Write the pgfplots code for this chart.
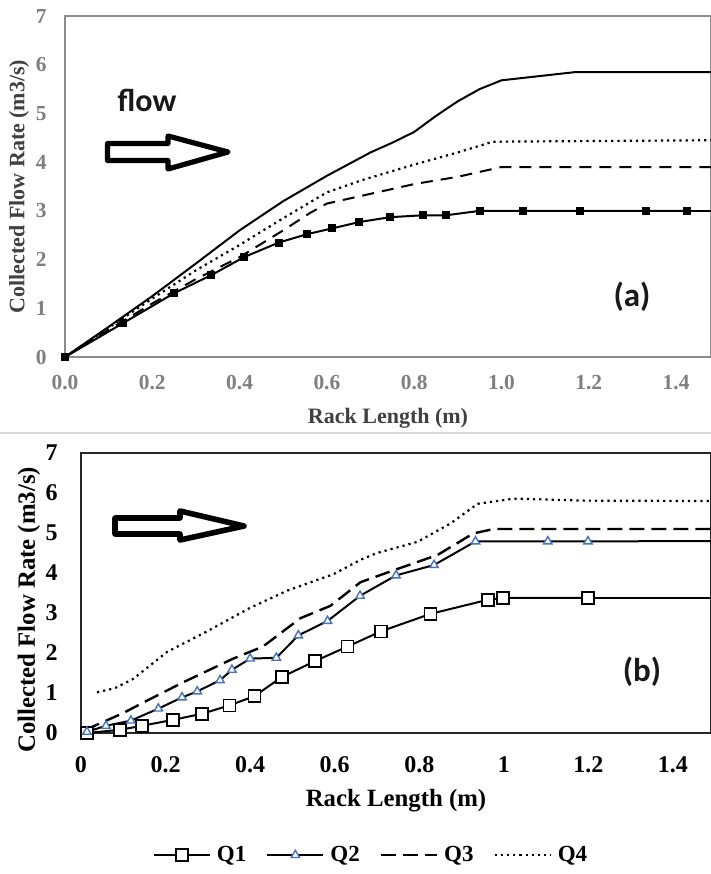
\documentclass[border=0pt]{standalone}
\usepackage{fontspec}
\setmainfont{Liberation Serif}
\newfontfamily\calib{Carlito}
\usepackage{pgfplots}
\pgfplotsset{compat=1.18}
\definecolor{tickgray}{HTML}{7F7F7F}
\definecolor{labgray}{HTML}{404040}
\definecolor{boxgray}{HTML}{8C8C8C}
\definecolor{sepgray}{HTML}{D9D9D9}
\definecolor{triblue}{HTML}{4472C4}

\begin{document}
\begin{tikzpicture}
\useasboundingbox (0pt,0pt) rectangle (355.5pt,-437pt);
\fill[white] (0pt,0pt) rectangle (355.5pt,-437pt);
\draw[sepgray, line width=1pt] (0pt,-216.5pt) -- (355.5pt,-216.5pt);

% ---- panel (a)
\begin{axis}[
  at={(32.5pt,-178.5pt)}, anchor=south west,
  scale only axis, width=323pt, height=170.5pt,
  xmin=0, xmax=1.48, ymin=0, ymax=7,
  xtick={0,0.2,0.4,0.6,0.8,1.0,1.2,1.4}, ytick={0,1,...,7},
  major tick length=0pt,
  axis line style={draw=boxgray, line width=1.2pt},
  xticklabel style={font=\fontsize{10.7}{12}\selectfont\bfseries, text=tickgray,
    anchor=center, inner sep=0pt, yshift=-13pt,
    /pgf/number format/.cd, fixed, fixed zerofill, precision=1, assume math mode=true},
  yticklabel style={font=\fontsize{10.7}{12}\selectfont\bfseries, text=tickgray,
    anchor=east, inner sep=0pt, xshift=-9pt,
    /pgf/number format/assume math mode=true},
  xlabel={Rack Length (m)},
  xlabel style={at={(axis description cs:0.5,-0.179)}, anchor=center,
    font=\fontsize{11}{13}\selectfont\bfseries, text=labgray},
  ylabel={Collected Flow Rate (m3/s)},
  ylabel style={at={(axis description cs:-0.071,0.5)}, anchor=center,
    font=\fontsize{11}{13}\selectfont\bfseries, text=labgray},
]
\addplot[black, line width=1pt, no marks] coordinates {
  (0,0) (0.1,0.62) (0.2,1.25) (0.3,1.92) (0.4,2.6) (0.5,3.2) (0.6,3.72)
  (0.7,4.2) (0.75,4.4) (0.8,4.62) (0.85,4.95) (0.9,5.25) (0.95,5.5)
  (1.0,5.68) (1.05,5.73) (1.1,5.78) (1.17,5.85) (1.48,5.85)};
\addplot[black, line width=1.1pt, dotted, no marks] coordinates {
  (0,0) (0.1,0.6) (0.2,1.2) (0.3,1.78) (0.4,2.3) (0.5,2.85) (0.6,3.38)
  (0.68,3.63) (0.8,3.95) (0.9,4.2) (0.98,4.42) (1.48,4.45)};
\addplot[black, line width=1pt, dash pattern=on 6pt off 4pt, no marks] coordinates {
  (0,0) (0.1,0.56) (0.2,1.1) (0.3,1.6) (0.4,2.05) (0.5,2.6) (0.56,2.95)
  (0.6,3.15) (0.7,3.35) (0.8,3.55) (0.9,3.7) (1.0,3.9) (1.48,3.9)};
\addplot[black, line width=1pt, mark=square*, mark size=1.5pt] coordinates {
  (0,0) (0.134,0.70) (0.25,1.31) (0.335,1.68) (0.41,2.05) (0.49,2.35)
  (0.554,2.52) (0.612,2.64) (0.674,2.77) (0.744,2.87) (0.82,2.91)
  (0.873,2.91) (0.95,3.0) (1.05,3.0) (1.18,3.0) (1.33,3.0) (1.425,3.0)};
\addplot[black, line width=1pt, no marks] coordinates {(1.425,3.0) (1.48,3.0)};
\end{axis}

% ---- panel (b)
\begin{axis}[
  at={(40.5pt,-366.5pt)}, anchor=south west,
  scale only axis, width=315pt, height=140pt,
  xmin=0, xmax=1.49, ymin=0, ymax=7,
  xtick={0,0.2,0.4,0.6,0.8,1,1.2,1.4}, ytick={0,1,...,7},
  major tick length=0pt,
  axis line style={draw=black!85, line width=1.2pt},
  xticklabel style={font=\fontsize{12}{14}\selectfont\bfseries,
    anchor=center, inner sep=0pt, yshift=-16pt,
    /pgf/number format/assume math mode=true},
  yticklabel style={font=\fontsize{12}{14}\selectfont\bfseries,
    anchor=east, inner sep=0pt, xshift=-11.5pt,
    /pgf/number format/assume math mode=true},
  xlabel={Rack Length (m)},
  xlabel style={at={(axis description cs:0.5,-0.24)}, anchor=center,
    font=\fontsize{12.4}{14}\selectfont\bfseries},
  ylabel={Collected Flow Rate (m3/s)},
  ylabel style={at={(axis description cs:-0.0825,0.44)}, anchor=center,
    font=\fontsize{12.4}{14}\selectfont\bfseries},
  legend columns=4,
  legend style={at={(axis description cs:0.462,-0.436)}, anchor=center,
    draw=none, fill=none, font=\fontsize{11.5}{13}\selectfont\bfseries,
    /tikz/every odd column/.append style={column sep=1pt},
    /tikz/every even column/.append style={column sep=8pt}},
  legend image code/.code={\draw[mark repeat=2,mark phase=2,#1]
    plot coordinates {(0pt,0pt) (14pt,0pt) (28pt,0pt)};},
]
\addplot[black, line width=1pt, mark=square*, mark size=3pt,
  mark options={fill=white, draw=black, line width=0.8pt}] coordinates {
  (0.014,0.0) (0.092,0.08) (0.144,0.18) (0.218,0.33) (0.286,0.48)
  (0.351,0.69) (0.41,0.92) (0.475,1.4) (0.554,1.8) (0.63,2.16)
  (0.709,2.54) (0.827,2.98) (0.962,3.33) (0.998,3.38) (1.199,3.38)};
\addplot[black, line width=1pt, mark=triangle*, mark size=2.4pt,
  mark options={fill=white, draw=triblue, line width=0.7pt}] coordinates {
  (0.014,0.03) (0.059,0.18) (0.118,0.31) (0.183,0.61) (0.239,0.89)
  (0.275,1.04) (0.329,1.32) (0.357,1.58) (0.4,1.86) (0.462,1.88)
  (0.514,2.44) (0.583,2.8) (0.66,3.43) (0.745,3.94) (0.835,4.2)
  (0.933,4.79) (1.104,4.79) (1.199,4.79)};
\addplot[black, line width=1.2pt, dash pattern=on 7.5pt off 3.5pt, no marks] coordinates {
  (0.01,0.08) (0.045,0.24) (0.1,0.5) (0.147,0.76) (0.242,1.27) (0.36,1.86)
  (0.43,2.16) (0.519,2.87) (0.59,3.18) (0.661,3.77) (0.748,4.1)
  (0.843,4.45) (0.928,4.99) (0.976,5.1) (1.49,5.1)};
\addplot[black, line width=1.1pt, dotted, no marks] coordinates {
  (0.038,1.02) (0.08,1.12) (0.123,1.35) (0.204,2.03) (0.298,2.54)
  (0.4,3.13) (0.488,3.56) (0.597,3.97) (0.661,4.33) (0.7,4.5)
  (0.796,4.78) (0.874,5.24) (0.938,5.73) (1.024,5.86) (1.19,5.81) (1.49,5.8)};
\addplot[black, line width=1pt, no marks, forget plot] coordinates {(1.199,3.38) (1.49,3.38)};
\addplot[black, line width=1pt, no marks, forget plot] coordinates {(1.199,4.79) (1.49,4.8)};
\legend{Q1, Q2, Q3, Q4}
\end{axis}

% ---- annotations (px coordinates)
\begin{scope}[x=0.5pt, y=-0.5pt]
\draw[black, line width=2.6pt, line join=round]
  (107.5,143.5) -- (168,143.5) -- (168,136) -- (228,152) -- (168,169)
  -- (168,160.5) -- (107.5,160.5) -- cycle;
\draw[black, line width=2.8pt, line join=round]
  (115,518) -- (180,518) -- (180,511) -- (244,526) -- (180,540)
  -- (180,534) -- (115,534) -- cycle;
\node[font=\calib\bfseries\fontsize{16}{18}\selectfont, text=black!90] at (147,100) {flow};
\node[font=\calib\bfseries\fontsize{16.5}{19}\selectfont, text=black!90] at (632,297) {(a)};
\node[font=\calib\bfseries\fontsize{16.5}{19}\selectfont, text=black!90] at (642,672) {(b)};
\end{scope}
\end{tikzpicture}
\end{document}
